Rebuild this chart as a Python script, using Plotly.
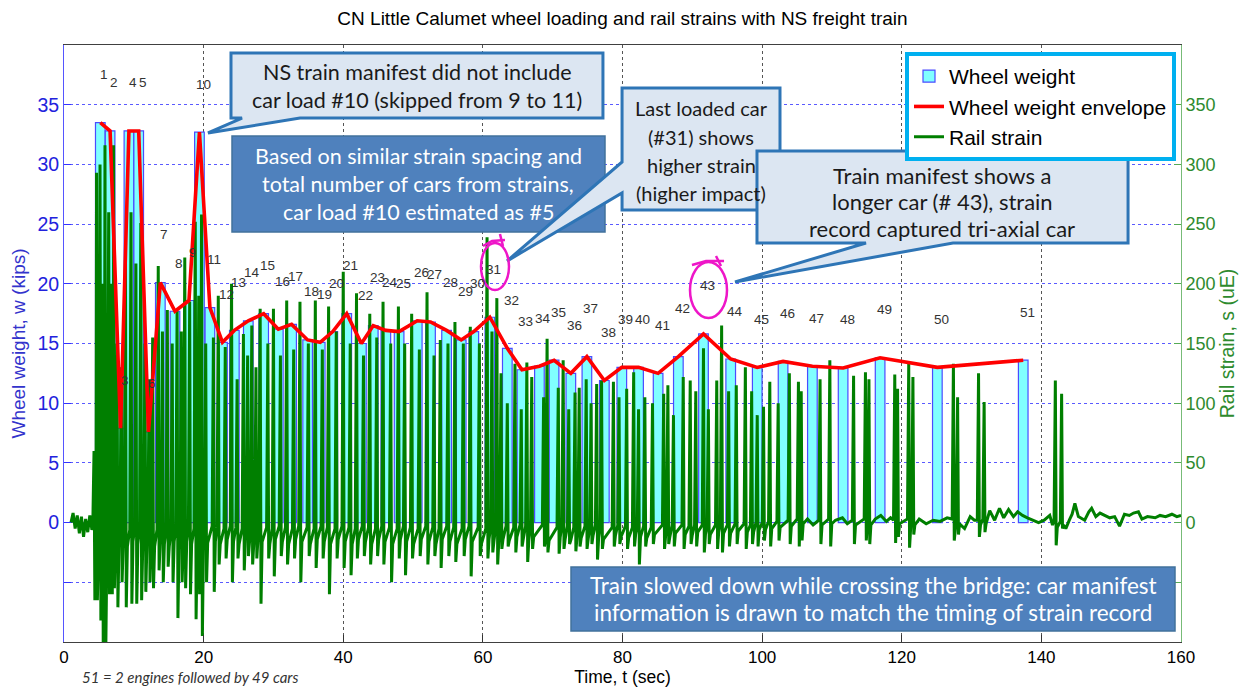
import plotly.graph_objects as go

# ---------------- data ----------------
car_labels = [str(i) for i in range(1, 52)]
car_t = [5.2, 6.6, 8.1, 9.3, 10.7, 12.1, 13.8, 15.9, 17.9, 19.4,
         20.9, 22.7, 24.4, 26.4, 28.6, 30.7, 32.6, 34.9, 36.7, 38.5,
         40.5, 42.6, 44.3, 46.1, 48.0, 50.6, 52.5, 54.8, 56.9, 58.7,
         61.0, 63.5, 65.6, 68.1, 70.2, 72.6, 74.9, 77.4, 79.9, 82.3,
         85.1, 88.0, 91.6, 95.5, 99.3, 103.0, 107.2, 111.6, 116.9, 125.1,
         137.4]
car_w = [33.5, 32.8, 7.9, 32.8, 32.8, 7.6, 20.1, 17.7, 18.6, 32.7,
         18.0, 15.1, 16.1, 16.9, 17.5, 16.2, 16.6, 15.3, 15.1, 16.0,
         17.5, 15.0, 16.5, 16.1, 16.0, 16.9, 16.8, 16.1, 15.3, 16.0,
         17.2, 14.6, 12.8, 13.1, 13.6, 12.5, 13.9, 11.9, 13.0, 13.0,
         12.5, 13.9, 15.8, 13.7, 13.0, 13.5, 13.1, 12.95, 13.8, 13.0,
         13.6]

# rail strain spikes: time, peak, following trough, level before, level after
spike_t = [4.3, 4.66, 5.16, 5.5, 5.87, 6.4, 6.8, 7.1, 7.6, 8.2, 8.8, 9.6, 10.3, 11.0, 11.6, 12.2, 12.7, 13.5, 14.1, 14.8, 15.5, 16.2, 16.8, 17.3, 18.0, 18.8, 19.3, 19.7, 20.3,
           21.4, 22.1, 23.1, 24.0, 24.8, 25.7, 26.3, 26.9, 27.5, 28.1, 29.2, 30.0, 31.0, 31.9, 32.9, 33.8, 35.0, 36.0, 37.0, 37.9, 39.0, 40.0, 41.0, 41.9, 42.9, 43.8, 44.8, 45.7, 46.8, 47.9, 48.8, 49.8, 50.9, 52.0, 53.0, 53.9, 55.0, 56.0, 57.2, 58.2, 59.5, 60.6, 61.3, 62.0,
           62.6, 63.5, 64.6, 65.5, 66.3, 67.0, 68.7, 69.2, 70.8, 71.5, 72.3, 73.2, 73.8, 74.8, 75.5, 76.3, 77.0, 78.7, 79.5, 80.6, 81.6, 82.3, 83.2, 84.3, 85.9, 86.5, 87.3, 88.7, 89.7, 90.5, 91.6, 92.3, 93.5, 94.2, 95.2, 96.3, 97.6, 98.5, 99.3, 100.2, 101.1, 102.3, 103.9,
           105.2, 105.6, 108.3, 109.7, 113.1, 114.8, 115.3, 119.0, 119.4, 121.0, 121.6, 127.4, 128.0, 131.0, 131.8, 142.0, 142.9]
spike_peak = [60, 293, 300, 200, 316, 260, 200, 316, 150, 130, 220, 260, 217, 251, 150, 120, 155, 215, 160, 178, 150, 177, 160, 222, 185, 252, 190, 258, 150,
              155, 190, 147, 200, 120, 158, 140, 165, 130, 179, 150, 179, 140, 186, 145, 185, 150, 186, 145, 181, 160, 210, 150, 192, 140, 175, 155, 185, 150, 181, 150, 175, 145, 193, 140, 153, 150, 168, 150, 164, 150, 239, 160, 188,
              125, 100, 133, 95, 134, 122, 105, 154, 113, 136, 95, 109, 113, 120, 100, 116, 119, 118, 105, 112, 126, 95, 105, 100, 108, 115, 90, 122, 119, 110, 146, 95, 119, 165, 110, 115, 130, 110, 90, 97, 118, 100, 125,
              118, 110, 120, 136, 123, 126, 120, 124, 112, 133, 122, 133, 105, 125, 101, 119, 108]
spike_trough = [-65, -65, -82, -105, -105, -60, -60, -55, -71, -50, -71, -68, -68, -65, -58, -50, -55, -40, -50, -37, -50, -80, -50, -55, -60, -81, -60, -95, -50,
                -58, -35, -30, -50, -30, -40, -28, -35, -30, -68, -30, -45, -28, -35, -30, -50, -28, -38, -30, -60, -30, -38, -44, -30, -28, -35, -28, -35, -50, -30, -44, -30, -28, -35, -28, -38, -28, -33, -28, -45, -28, -30, -25, -35,
                -22, -20, -25, -20, -33, -22, -20, -25, -26, -22, -18, -24, -20, -22, -18, -31, -22, -20, -18, -22, -20, -35, -20, -18, -22, -18, -20, -22, -18, -20, -25, -18, -22, -25, -20, -18, -22, -18, -20, -15, -20, -15, -18,
                -20, -15, -18, -20, -18, -15, -18, -17, -12, -21, -10, -15, -10, -12, -8, -19, -5]
spike_before = [-4, -5, -6, -4, -5, -6, -4, -5, -6, -4, -5, -6, -4, -5, -6, -4, -5, -6, -4, -5, -6, -4, -5, -6, -4, -5, -6, -4, -5,
                -3, -4, -5, -3, -4, -5, -3, -4, -5, -3, -4, -5, -3, -4, -5, -3, -4, -5, -3, -4, -5, -3, -4, -5, -3, -4, -5, -3, -4, -5, -3, -4, -5, -3, -4, -5, -3, -4, -5, -3, -4, -5, -3, -4,
                -2, -3, -4, -2, -3, -4, -2, -3, -4, -2, -3, -4, -2, -3, -4, -2, -3, -4, -2, -3, -4, -2, -3, -4, -2, -3, -2, -2, -3, -2, -2, -3, -2, -1, -2, -1, -1, -2, 0, 0, 1, 1, 2,
                3, 3, 2, 3, 2, 3, 3, 2, 3, 3, 2, 3, 3, 2, 3, 2, 1]
spike_after = [-18, -20, -16, -18, -20, -16, -18, -20, -16, -18, -20, -16, -18, -20, -16, -18, -20, -16, -18, -20, -16, -18, -20, -16, -18, -20, -16, -18, -17,
               -16, -18, -14, -16, -18, -14, -16, -18, -14, -16, -18, -14, -16, -18, -14, -16, -18, -14, -16, -18, -14, -16, -18, -14, -16, -18, -14, -16, -18, -14, -16, -18, -14, -16, -18, -14, -16, -18, -14, -16, -18, -14, -16, -16,
               -14, -15, -12, -14, -15, -12, -14, -15, -12, -14, -15, -12, -13, -14, -11, -13, -14, -11, -12, -13, -10, -12, -13, -10, -11, -12, -9, -10, -11, -8, -10, -10, -8, -9, -9, -7, -8, -8, -6, -6, -5, -4, -3,
               -2, -1, -2, -1, -2, -1, -2, -3, -1, -4, -2, -3, -1, -2, -1, -4, -2]
quiet_t = [1.0, 1.3, 1.6, 1.9, 2.2, 2.5, 2.8, 3.1, 3.4, 3.7, 4.0,
           106.5, 107.3, 110.5, 111.5, 112.2, 116.2, 117.0, 117.8, 118.4, 122.5, 123.5, 124.5, 125.5, 126.5,
           129.0, 129.8, 130.4, 132.6, 133.3, 134.0, 134.6, 135.3, 136.0, 136.6, 137.3, 138.0, 138.8, 139.6, 140.4, 141.2, 141.6,
           143.5, 144.0, 144.4, 144.8, 145.3, 146.2, 146.8, 147.2, 147.8, 148.4, 149.1, 149.8, 150.5, 151.2, 151.9, 152.6,
           153.2, 153.9, 154.4, 155.2, 156.3, 157.0, 157.8, 158.7, 159.4, 160.0]
quiet_s = [0, 8, -5, 6, -9, 5, -12, 3, -8, 6, -6,
           3, -2, 2, 4, -1, 3, 6, 1, 4, 3, -1, 2, 1, 4,
           -5, 5, 2, 10, 2, 12, 4, 11, 5, 9, 6, 4, 2, 0, 2, 6, -2,
           -5, 2, 7, 16, 5, 2, 9, 12, 5, 8, 6, 4, 5, -3, 7, 6,
           8, 9, 3, 5, 4, 6, 5, 7, 5, 6]

assert len(spike_t) == len(spike_peak) == len(spike_trough) == len(spike_before) == len(spike_after)
assert len(quiet_t) == len(quiet_s)

# polyline of the strain record: each spike drawn as rest -> peak -> trough -> settle
pts = []
for t, pk, tr, b0, b1 in zip(spike_t, spike_peak, spike_trough, spike_before, spike_after):
    pts += [(t - 0.18, b0), (t, pk), (t + 0.12, tr), (t + 0.28, b1)]
pts += list(zip(quiet_t, quiet_s))
pts.sort()
strain_x = [p[0] for p in pts]
strain_y = [p[1] for p in pts]

# ---------------- layout helpers (reference pixel -> paper) ----------------
# the page body adds an 8 px margin, so the figure is 8 px smaller than the window
OFF = 8
W, H = 1247 - OFF, 692 - OFF
PL, PR, PT, PB = 64, 1181, 45, 642          # plot area in reference pixels
def pp(x, y):
    return ((x - PL) / (PR - PL), (PB - y) / (PB - PT))

def path(points, close=True):
    s = []
    for i, (x, y) in enumerate(points):
        a, b = pp(x, y)
        s.append(("M " if i == 0 else "L ") + f"{a:.4f},{b:.4f}")
    return " ".join(s) + (" Z" if close else "")

LIGHT = "#DCE6F2"
LBORDER = "#2E75B6"
DARK = "#4F81BD"
DBORDER = "#41719C"
MAG = "#EE16C8"
CAL = "Lato, Calibri, 'Noto Sans', sans-serif"
ARIAL = "'Liberation Sans', Arial, sans-serif"

fig = go.Figure()

fig.add_trace(go.Bar(
    x=car_t, y=car_w, width=1.38, name="Wheel weight",
    marker=dict(color="#80FFFF", line=dict(color="#4B4BFF", width=1.2)),
    yaxis="y", legendrank=1))

fig.add_trace(go.Scatter(
    x=strain_x, y=strain_y, mode="lines", name="Rail strain",
    line=dict(color="#007F00", width=3), yaxis="y2", legendrank=3))

fig.add_trace(go.Scatter(
    x=car_t, y=car_w, mode="lines", name="Wheel weight envelope",
    line=dict(color="#FF0000", width=3.6), yaxis="y3", legendrank=2))

shapes = []
annotations = []

# car number labels
for lab, t, w in zip(car_labels, car_t, car_w):
    annotations.append(dict(x=t, y=w, xref="x", yref="y", text=lab, showarrow=False,
                            yshift=48, xshift=4, font=dict(size=13.5, color="#333333", family=ARIAL)))

# callout 1 (light) with tail to car 10
shapes.append(dict(type="path", xref="paper", yref="paper", layer="above",
                   path=path([(231, 53), (603, 53), (603, 118), (300, 118), (208, 133), (242, 118), (231, 118)]),
                   fillcolor=LIGHT, line=dict(color=LBORDER, width=3)))
# callout 2 (dark)
shapes.append(dict(type="rect", xref="paper", yref="paper", layer="above",
                   x0=pp(232, 0)[0], x1=pp(605, 0)[0], y0=pp(0, 232)[1], y1=pp(0, 136)[1],
                   fillcolor=DARK, line=dict(color=DBORDER, width=1.5)))
# callout 3 (light) with tail to car 31
shapes.append(dict(type="path", xref="paper", yref="paper", layer="above",
                   path=path([(622, 88), (780, 88), (780, 210), (622, 210), (622, 193), (507, 261), (622, 162)]),
                   fillcolor=LIGHT, line=dict(color=LBORDER, width=3)))
# callout 4 (light) with tail to car 43
shapes.append(dict(type="path", xref="paper", yref="paper", layer="above",
                   path=path([(757, 151), (1128, 151), (1128, 243), (953, 243), (735, 282), (866, 243), (757, 243)]),
                   fillcolor=LIGHT, line=dict(color=LBORDER, width=3)))
# callout 5 (dark)
shapes.append(dict(type="rect", xref="paper", yref="paper", layer="above",
                   x0=pp(571, 0)[0], x1=pp(1175, 0)[0], y0=pp(0, 631)[1], y1=pp(0, 567)[1],
                   fillcolor=DARK, line=dict(color=DBORDER, width=1.5)))

# magenta hand-drawn marks
for (x0, y0, x1, y1) in [(481, 243, 509, 290), (690, 262, 727, 318)]:
    shapes.append(dict(type="circle", xref="paper", yref="paper", layer="above",
                       x0=pp(x0, 0)[0], x1=pp(x1, 0)[0], y0=pp(0, y1)[1], y1=pp(0, y0)[1],
                       line=dict(color=MAG, width=2.5)))
for pts_h in [[(483, 246), (492, 241), (505, 240)], [(500, 234), (503, 246)],
              [(692, 265), (706, 261), (724, 261)], [(716, 256), (721, 266)]]:
    shapes.append(dict(type="path", xref="paper", yref="paper", layer="above",
                       path=path(pts_h, close=False), line=dict(color=MAG, width=2.5)))

def box_lines(cx, ys, lines, color, size):
    for y, txt in zip(ys, lines):
        a, b = pp(cx, y)
        annotations.append(dict(x=a, y=b, xref="paper", yref="paper", text=txt, showarrow=False,
                                xanchor="center", yanchor="middle", align="center",
                                font=dict(size=size, color=color, family=CAL)))

box_lines(417, [72, 100], ["NS train manifest did not include", "car load #10 (skipped from 9 to 11)"],
          "#1A1A1A", 21.5)
box_lines(418, [156, 184, 212], ["Based on similar strain spacing and", "total number of cars from strains,",
                                 "car load #10 estimated as #5"], "#FFFFFF", 21.5)
box_lines(701, [108, 137, 165, 193], ["Last loaded car", "(#31) shows", "higher strain", "(higher impact)"],
          "#1A1A1A", 20)
box_lines(942, [175, 202, 228], ["Train manifest shows a", "longer car (# 43), strain",
                                 "record captured tri-axial car"], "#1A1A1A", 22)
box_lines(873, [585, 612], ["Train slowed down while crossing the bridge: car manifest",
                            "information is drawn to match the timing of strain record"], "#FFFFFF", 22.5)

a, b = pp(80, 677)
annotations.append(dict(x=a, y=b, xref="paper", yref="paper", text="<i>51 = 2 engines followed by 49 cars</i>",
                        showarrow=False, xanchor="left", yanchor="middle",
                        font=dict(size=15, color="#333333", family=CAL)))

fig.update_layout(
    width=W, height=H,
    margin=dict(l=PL - OFF, r=W - (PR - OFF), t=PT - OFF, b=H - (PB - OFF)),
    paper_bgcolor="white", plot_bgcolor="white",
    font=dict(family=ARIAL, color="black"),
    title=dict(text="CN Little Calumet wheel loading and rail strains with NS freight train",
               x=0.5, xref="paper", xanchor="center", y=1 - (18 - OFF) / H, yref="container", yanchor="middle",
               font=dict(size=19, color="black", family=ARIAL)),
    showlegend=True,
    legend=dict(x=pp(1176, 0)[0], y=pp(0, 52)[1], xanchor="right", yanchor="top",
                bgcolor="white", bordercolor="#00B0F0", borderwidth=4,
                font=dict(size=21, color="black", family=ARIAL), tracegroupgap=0,
                itemwidth=30),
    xaxis=dict(range=[0, 160], tickvals=[0, 20, 40, 60, 80, 100, 120, 140, 160],
               ticks="inside", ticklen=7, tickcolor="#333333", showline=True, linecolor="#404040",
               mirror=True, showgrid=True, gridcolor="#555555", griddash="dot", gridwidth=1,
               zeroline=False, tickfont=dict(size=17, color="black"), automargin=False,
               title=dict(text="Time, t (sec)", font=dict(size=17.5, color="black"), standoff=3)),
    yaxis=dict(range=[-10, 40], tickvals=[-5, 0, 5, 10, 15, 20, 25, 30, 35],
               ticktext=["", "0", "5", "10", "15", "20", "25", "30", "35"],
               ticks="inside", ticklen=7, tickcolor="#3333FF", showline=True, linecolor="#5555FF",
               showgrid=True, gridcolor="#5A5AFF", griddash="dot", gridwidth=1, zeroline=False,
               tickfont=dict(size=19.5, color="#2222DD"), automargin=False,
               title=dict(text="Wheel weight, w (kips)", font=dict(size=19, color="#3333CC"), standoff=6)),
    yaxis2=dict(range=[-100, 400], overlaying="y", side="right",
                tickvals=[-50, 0, 50, 100, 150, 200, 250, 300, 350],
                ticktext=["", "0", "50", "100", "150", "200", "250", "300", "350"],
                ticks="inside", ticklen=7, tickcolor="#55AA55", showline=True, linecolor="#77BB77",
                showgrid=False, zeroline=False, tickfont=dict(size=18, color="#2E8B2E"), automargin=False,
                title=dict(text="Rail strain, s (uE)", font=dict(size=19.5, color="#2E8B2E"), standoff=2)),
    yaxis3=dict(range=[-10, 40], overlaying="y", visible=False),
    shapes=shapes, annotations=annotations,
)

fig.write_html("out.html")
